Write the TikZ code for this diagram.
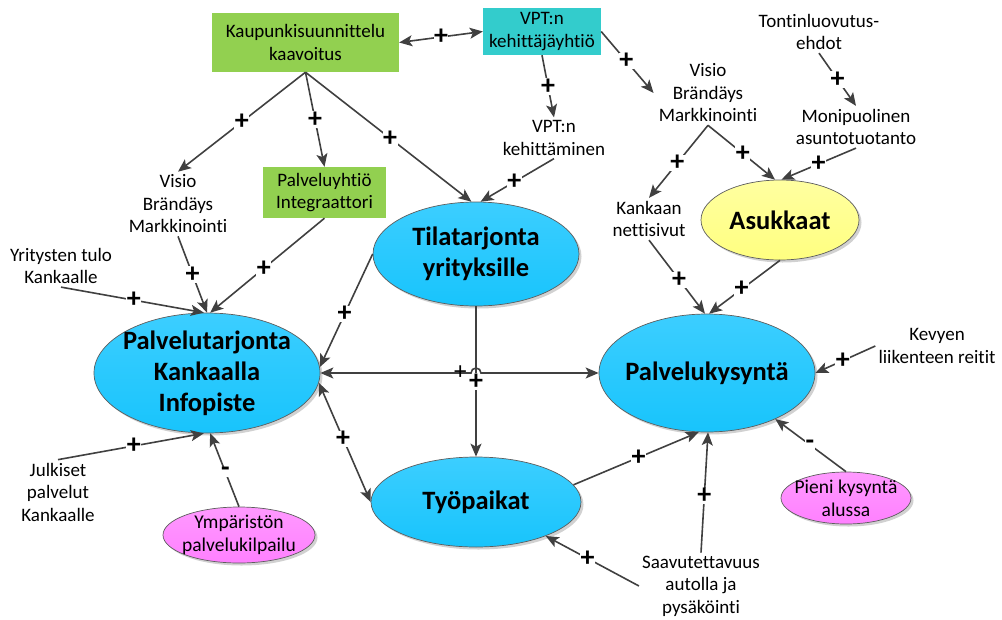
\documentclass[tikz,border=0pt]{standalone}
\usepackage{fontspec}
\setmainfont{Carlito}[Ligatures=NoCommon]
\usetikzlibrary{arrows.meta,shapes.geometric,shadows,calc}
\definecolor{ln}{HTML}{404040}
\definecolor{kgreen}{HTML}{92D050}
\definecolor{kteal}{HTML}{33CCCC}
\definecolor{bluetop}{HTML}{3CCEFF}
\definecolor{bluebot}{HTML}{18C4FC}
\definecolor{yeltop}{HTML}{FFFFA0}
\definecolor{yelbot}{HTML}{FFFF80}
\definecolor{pinktop}{HTML}{FF99FF}
\definecolor{pinkbot}{HTML}{FF80FF}
\begin{document}
\begin{tikzpicture}[x=1pt,y=-1pt,
  arr/.style={draw=ln, line width=1.6pt, -{Stealth[length=13pt,width=11pt,inset=3pt]}},
  darr/.style={draw=ln, line width=1.6pt, {Stealth[length=13pt,width=11pt,inset=3pt]}-{Stealth[length=13pt,width=11pt,inset=3pt]}},
  pl/.style={font=\bfseries\fontsize{28}{28}\selectfont, fill=white, inner sep=0.5pt, text=black},
  thinpl/.style={font=\fontsize{25}{25}\selectfont, inner sep=0pt, text=black},
  txt/.style={align=center, font=\fontsize{19}{22.5}\selectfont, inner sep=3pt},
  box/.style={rectangle, align=center, font=\fontsize{19}{22.5}\selectfont, inner sep=0pt},
  ell/.style={ellipse, draw=ln!85, line width=0.7pt, inner sep=0pt,
     drop shadow={shadow xshift=2.5pt, shadow yshift=-2.5pt, fill=black, opacity=0.18}},
  blueell/.style={ell, top color=bluetop, bottom color=bluebot},
  yelell/.style={ell, top color=yeltop, bottom color=yelbot},
  pinkell/.style={ell, top color=pinktop, bottom color=pinkbot},
  big/.style={font=\bfseries\fontsize{26.5}{31}\selectfont, align=center, inner sep=0pt},
  small/.style={font=\fontsize{19.5}{23}\selectfont, align=center, inner sep=0pt}
]
\useasboundingbox (0,0) rectangle (1002,619);

% boxes
\node[box, fill=kgreen, minimum width=187pt, minimum height=59pt] (kaup) at (305.5,42.5) {Kaupunkisuunnittelu\\kaavoitus};
\node[box, fill=kteal, minimum width=118pt, minimum height=47pt] (vpt) at (542,31.5) {VPT:n\\kehittäjäyhtiö};
\node[box, fill=kgreen, minimum width=123pt, minimum height=51pt] (pal) at (324.5,192.5) {Palveluyhtiö\\Integraattori};

% ellipses
\node[blueell, minimum width=226pt, minimum height=120pt] (pt) at (207,373) {};
\node[big] at (pt) {Palvelutarjonta\\Kankaalla\\Infopiste};
\node[blueell, minimum width=206pt, minimum height=104pt] (tila) at (476,254) {};
\node[big] at (tila) {Tilatarjonta\\yrityksille};
\node[blueell, minimum width=210pt, minimum height=90pt] (tyo) at (476,502) {};
\node[big] at (tyo) {Työpaikat};
\node[blueell, minimum width=216pt, minimum height=118pt] (pk) at (707,373) {};
\node[big] at (pk) {Palvelukysyntä};
\node[yelell, minimum width=158pt, minimum height=80pt] (asuk) at (780,220) {};
\node[big] at (asuk) {Asukkaat};
\node[pinkell, minimum width=152pt, minimum height=56pt] (ymp) at (239,535) {};
\node[small] at (ymp) {Ympäristön\\palvelukilpailu};
\node[pinkell, minimum width=130pt, minimum height=52pt] (pieni) at (846,498) {};
\node[small] at (pieni) {Pieni kysyntä\\alussa};

% free texts
\node[txt] (visioL) at (178,204) {Visio\\Brändäys\\Markkinointi};
\node[txt] (yrit) at (61,266) {Yritysten tulo\\Kankaalle};
\node[txt] (julk) at (58,492) {Julkiset\\palvelut\\Kankaalle};
\node[txt] (vptk) at (554,138) {VPT:n\\kehittäminen};
\node[txt] (visioR) at (708,93) {Visio\\Brändäys\\Markkinointi};
\node[txt] (tont) at (819,32) {Tontinluovutus-\\ehdot};
\node[txt] (moni) at (856,127) {Monipuolinen\\asuntotuotanto};
\node[txt] (kank) at (649,219) {Kankaan\\nettisivut};
\node[txt] (kev) at (937,346) {Kevyen\\liikenteen reitit};
\node[txt] (saav) at (701,586) {Saavutettavuus\\autolla ja\\pysäköinti};

% connectors
\draw[darr] (kaup.east) -- node[pl]{+} (vpt.west);
\draw[arr] (kaup.south) -- node[pl]{+} (visioL.north);
\draw[arr] (kaup.south) -- node[pl]{+} (pal.north);
\draw[arr] (kaup.south) -- node[pl, pos=0.51]{+} (tila.95);
\draw[arr] (vpt.south) -- node[pl]{+} (vptk.north);
\draw[arr] (vpt.east) -- node[pl, pos=0.48]{+} ($(visioR.west)+(-2,0)$);
\draw[arr] (vptk.south) -- node[pl, pos=0.54]{+} (tila.85);
\draw[arr] (tont.south) -- node[pl]{+} (moni.north);
\draw[arr] (visioR.south) -- node[pl, pos=0.52]{+} (kank.north);
\draw[arr] (visioR.south) -- node[pl, pos=0.52]{+} (asuk.97);
\draw[arr] (moni.south) -- node[pl]{+} (asuk.88);
\draw[arr] (kank.south) -- node[pl, pos=0.54]{+} (pk.92);
\draw[arr] (asuk.south) -- node[pl, pos=0.54]{+} (pk.88);
\draw[arr] (kev.west) -- node[pl, pos=0.54]{+} (pk.east);
\draw[arr] (pieni.north) -- node[pl, pos=0.51]{-} (pk.-34);
\draw[arr] (saav.north) -- node[pl, pos=0.47]{+} (pk.-89);
\draw[arr] (tyo.10) -- node[pl, pos=0.52]{+} (pk.-98);
\draw[arr] (saav.west) -- node[pl, pos=0.55]{+} (tyo.-26);
\draw[arr] (tila.south) -- node[pl]{+} (tila.south |- tyo.north);
\coordinate (hop) at (tila.south |- pt.east);
\draw[darr] (pt.east) -- node[thinpl, pos=0.93]{+} ([xshift=-5pt]hop) arc[start angle=180, end angle=0, radius=5pt] -- (pk.west);
\draw[arr] (tila.west) -- node[pl, pos=0.53]{+} (pt.3);
\draw[darr] (pt.-5) -- node[pl, pos=0.47]{+} (tyo.west);
\draw[arr] (visioL.south) -- node[pl]{+} (pt.north);
\draw[arr] (pal.south) -- node[pl, pos=0.53]{+} (pt.87);
\draw[arr] (yrit.south) -- node[pl, pos=0.51]{+} (pt.93);
\draw[arr] (julk.north) -- node[pl, pos=0.52]{+} (pt.-93);
\draw[arr] (ymp.north) -- node[pl, pos=0.47]{-} (pt.-87);
\end{tikzpicture}
\end{document}
